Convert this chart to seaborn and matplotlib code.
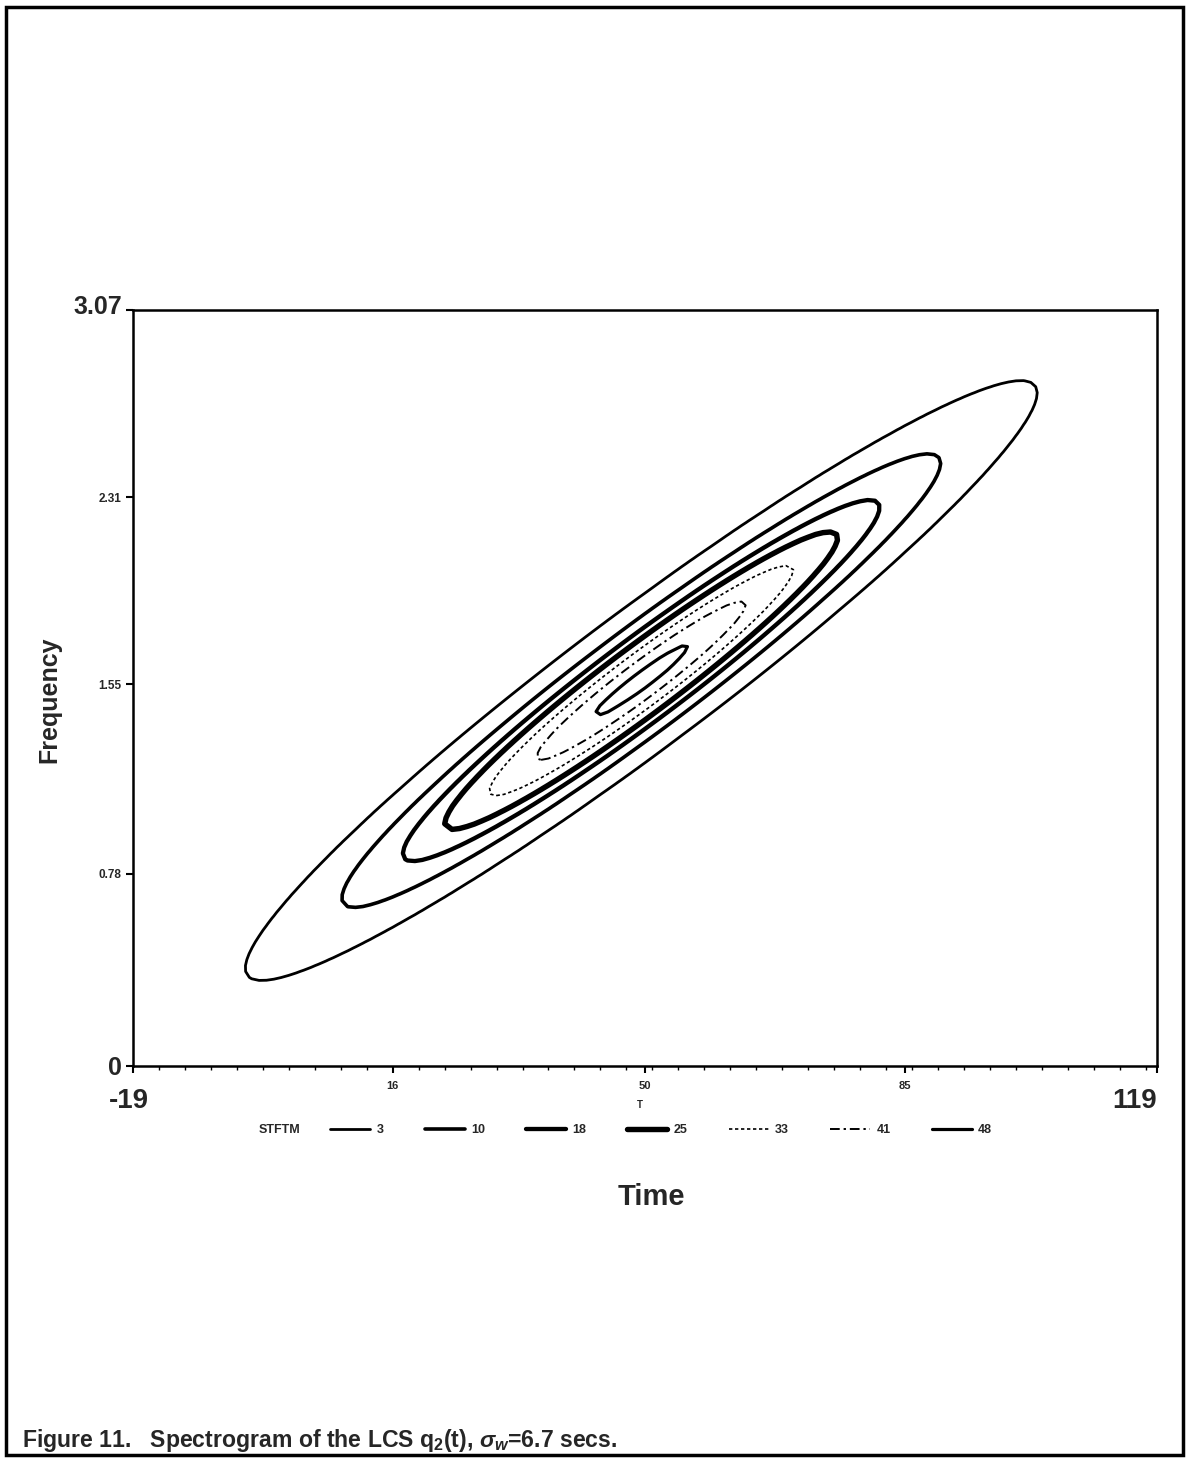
import numpy as np
import matplotlib
matplotlib.use("Agg")
import matplotlib.pyplot as plt
import matplotlib.transforms as mtransforms
from matplotlib.lines import Line2D
from matplotlib.patches import Rectangle
from matplotlib.ticker import AutoMinorLocator
import seaborn as sns

# STFT magnitude contour levels and how each one is drawn
levels = [3, 10, 18, 25, 33, 41, 48]
level_widths = [2.0, 2.6, 3.1, 3.9, 1.2, 1.4, 2.3]
level_styles = ["-", "-", "-", "-", (0, (2.0, 1.6)), (0, (5, 2, 1.2, 2)), "-"]

# Spectrogram of the linear chirp: Gaussian ridge along f = f0 + rate * (t - t0)
peak_mag = 50.0
t_center = 49.5
f_center = 1.565
chirp_rate = 0.0219
t_spread = 22.5
f_spread = 0.145

t_limits = [-19, 119]
f_limits = [0, 3.07]
x_ticks = [-19, 16, 50, 85, 119]
x_tick_labels = ["-19", "16", "50", "85", "119"]
y_ticks = [0, 0.78, 1.55, 2.31, 3.07]
y_tick_labels = ["0", "0.78", "1.55", "2.31", "3.07"]

sns.set_theme(style="ticks")
plt.rcParams["font.family"] = ["Liberation Sans", "DejaVu Sans"]
plt.rcParams["font.weight"] = "bold"
plt.rcParams["mathtext.fontset"] = "custom"
plt.rcParams["mathtext.rm"] = "Liberation Sans:bold"
plt.rcParams["mathtext.it"] = "Liberation Sans:bold:italic"
plt.rcParams["mathtext.bf"] = "Liberation Sans:bold"

fig = plt.figure(figsize=(11.87, 14.58), dpi=100)
fig.patch.set_facecolor("white")
ax = fig.add_axes([0.1120, 0.2689, 0.8627, 0.5185])
ax.set_facecolor("white")

# STFT magnitude on the analysis grid
t_grid = np.linspace(t_limits[0], t_limits[1], 139)
f_grid = np.linspace(f_limits[0], f_limits[1], 129)
T, F = np.meshgrid(t_grid, f_grid)
U = T - t_center
V = F - f_center - chirp_rate * U
stftm = peak_mag * np.exp(-U**2 / (2 * t_spread**2) - V**2 / (2 * f_spread**2))

ax.contour(T, F, stftm, levels=levels, colors="black",
           linewidths=level_widths, linestyles=level_styles)

ax.set_xlim(*t_limits)
ax.set_ylim(*f_limits)
ax.set_xticks(x_ticks)
ax.set_xticklabels(x_tick_labels)
ax.set_yticks(y_ticks)
ax.set_yticklabels(y_tick_labels)
ax.xaxis.set_minor_locator(AutoMinorLocator(10))
ax.tick_params(axis="both", which="major", length=5, width=1.5, color="black", direction="out")
ax.tick_params(axis="x", which="minor", length=3, width=1.0, color="black", direction="out")
ax.tick_params(axis="x", which="major", pad=6)
ax.tick_params(axis="y", which="major", pad=3)

xlabels = ax.get_xticklabels()
for i, lab in enumerate(xlabels):
    if i in (0, len(x_ticks) - 1):
        lab.set_fontsize(20)
    else:
        lab.set_fontsize(8)
    lab.set_fontweight("bold")
# the end labels sit a little lower; the right one is pulled inside the frame
xlabels[0].set_transform(xlabels[0].get_transform() +
                         mtransforms.ScaledTranslation(-0.04, -0.07, fig.dpi_scale_trans))
xlabels[-1].set_transform(xlabels[-1].get_transform() +
                          mtransforms.ScaledTranslation(-0.22, -0.07, fig.dpi_scale_trans))
for i, lab in enumerate(ax.get_yticklabels()):
    if i in (0, len(y_ticks) - 1):
        lab.set_fontsize(18)
    else:
        lab.set_fontsize(8.5)
    lab.set_fontweight("bold")
ax.get_yticklabels()[-1].set_transform(
    ax.get_yticklabels()[-1].get_transform() +
    mtransforms.ScaledTranslation(0.0, 0.05, fig.dpi_scale_trans))

for sp in ax.spines.values():
    sp.set_visible(True)
    sp.set_color("black")
    sp.set_linewidth(1.8)

# Axis names
fig.text(0.042, 0.52, "Frequency", rotation=90, ha="center", va="center",
         fontsize=18, fontweight="bold")
fig.text(0.549, 1 - 1197 / 1458, "Time", ha="center", va="center",
         fontsize=21, fontweight="bold")
fig.text(0.539, 1 - 1105 / 1458, "T", ha="center", va="center",
         fontsize=7, fontweight="bold")

# Contour key row
fig.text(0.2175, 1 - 1130 / 1458, "STFTM", ha="left", va="center",
         fontsize=9, fontweight="bold")
handles = [Line2D([0], [0], color="black", lw=w, ls=s)
           for w, s in zip(level_widths, level_styles)]
fig.legend(handles, [str(v) for v in levels], ncol=len(levels), loc="center",
           bbox_to_anchor=(0.557, 1 - 1130 / 1458), frameon=False,
           prop={"size": 9, "weight": "bold"}, handlelength=3.2,
           handletextpad=0.5, columnspacing=3.3)

# Caption
fig.text(0.0185, 1 - 1440 / 1458,
         r"Figure 11.   Spectrogram of the LCS q$_2$(t), $\sigma_{w}$=6.7 secs.",
         ha="left", va="center", fontsize=16.6, fontweight="bold")

# Page frame
fig.patches.append(Rectangle((0.005, 0.002), 0.992, 0.993, transform=fig.transFigure,
                             fill=False, edgecolor="black", linewidth=2.5))

fig.savefig("out.png", dpi=100, facecolor="white")
